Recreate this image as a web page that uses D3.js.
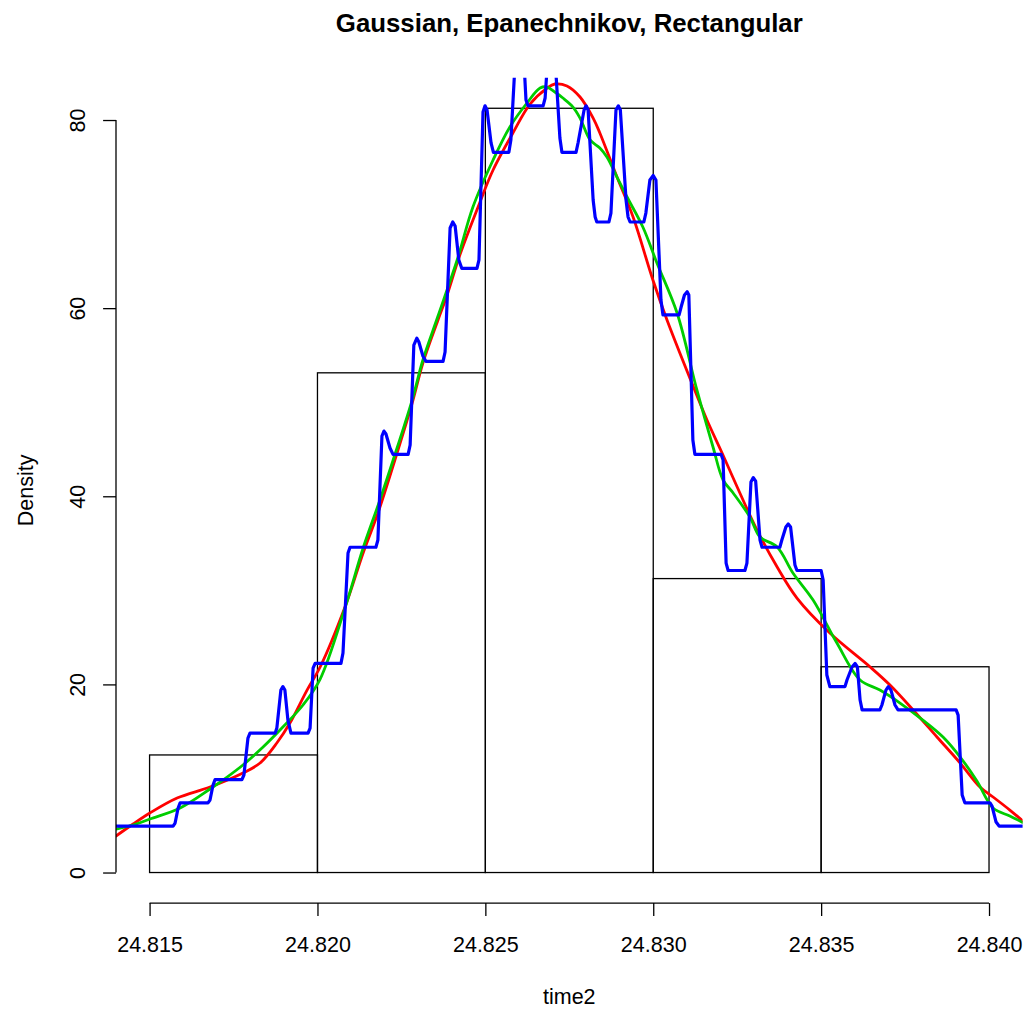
<!DOCTYPE html>
<html>
<head>
<meta charset="utf-8">
<script src="https://cdn.jsdelivr.net/npm/d3@7"></script>
<style>
  html, body { margin: 0; padding: 0; background: #fff; }
  svg { display: block; }
  text { font-family: "Liberation Sans", Arial, Helvetica, sans-serif; fill: #000; }
</style>
</head>
<body>
<script>
// ---- data ----
const chartTitle = "Gaussian, Epanechnikov, Rectangular";
const xLabel = "time2";
const yLabel = "Density";

const histBreaks = [24.815, 24.820, 24.825, 24.830, 24.835, 24.840];
const histDensity = [12.5, 53.125, 81.25, 31.25, 21.875];

const xTicks = [24.815, 24.820, 24.825, 24.830, 24.835, 24.840];
const xTickLabels = ["24.815", "24.820", "24.825", "24.830", "24.835", "24.840"];
const yTicks = [0, 20, 40, 60, 80];
const yTickLabels = ["0", "20", "40", "60", "80"];

// Gaussian kernel density (red)
const gaussX = [24.81400, 24.81451, 24.81501, 24.81582, 24.81680, 24.81778, 24.81829, 24.81879,
  24.81918, 24.81969, 24.82008, 24.82082, 24.82136, 24.82180, 24.82237, 24.82282, 24.82314,
  24.82359, 24.82386, 24.82424, 24.82484, 24.82523, 24.82582, 24.82633, 24.82684, 24.82707,
  24.82743, 24.82782, 24.82821, 24.82841, 24.82892, 24.82940, 24.82999, 24.83041, 24.83115,
  24.83160, 24.83205, 24.83258, 24.83309, 24.83369, 24.83428, 24.83526, 24.83646, 24.83705,
  24.83774, 24.83845, 24.83914, 24.83973, 24.84012, 24.84062, 24.84104];
const gaussY = [3.88, 5.16, 6.33, 7.92, 9.09, 10.58, 11.64, 13.77,
  15.89, 19.40, 21.85, 28.23, 33.97, 38.22, 44.60, 49.91, 54.17,
  58.74, 61.40, 65.65, 71.28, 74.69, 78.62, 81.70, 83.40, 83.83,
  83.62, 82.45, 80.21, 78.62, 73.94, 69.69, 62.99, 58.74, 52.04,
  48.11, 44.60, 40.35, 36.41, 32.48, 29.18, 25.46, 21.85, 19.93,
  17.28, 14.41, 11.64, 9.09, 8.03, 6.64, 5.37];

// Epanechnikov kernel density (green)
const epanX = [24.81400, 24.81451, 24.81501, 24.81591, 24.81680, 24.81731, 24.81778, 24.81838,
  24.81897, 24.81957, 24.82008, 24.82082, 24.82136, 24.82186, 24.82237, 24.82282, 24.82314,
  24.82359, 24.82416, 24.82463, 24.82523, 24.82573, 24.82624, 24.82663, 24.82684, 24.82707,
  24.82731, 24.82761, 24.82782, 24.82812, 24.82841, 24.82862, 24.82892, 24.82922, 24.82969,
  24.83011, 24.83071, 24.83130, 24.83178, 24.83208, 24.83238, 24.83288, 24.83318, 24.83369,
  24.83416, 24.83476, 24.83547, 24.83616, 24.83675, 24.83735, 24.83803, 24.83863, 24.83914,
  24.83964, 24.84012, 24.84062, 24.84104];
const epanY = [4.62, 5.05, 5.69, 6.86, 8.88, 10.15, 11.43, 13.34,
  15.47, 17.81, 20.57, 28.12, 34.50, 39.60, 45.13, 50.23, 54.49,
  59.16, 65.12, 70.75, 75.75, 79.26, 81.81, 83.40, 83.51, 82.98,
  82.34, 81.38, 80.21, 77.88, 77.03, 76.07, 73.94, 71.82, 68.63,
  64.80, 59.48, 51.30, 45.24, 41.73, 40.35, 37.79, 35.67, 34.61,
  31.84, 28.97, 24.40, 20.47, 19.40, 18.02, 16.21, 14.41, 12.28,
  9.73, 6.86, 6.01, 5.26];

// Rectangular kernel density (blue)
const rectX = [24.81400, 24.81570, 24.81576, 24.81585, 24.81591, 24.81674, 24.81680, 24.81689,
  24.81695, 24.81775, 24.81781, 24.81793, 24.81799, 24.81874, 24.81879, 24.81891, 24.81897,
  24.81903, 24.81912, 24.81921, 24.81972, 24.81978, 24.81987, 24.81993, 24.82070, 24.82076,
  24.82091, 24.82097, 24.82174, 24.82180, 24.82192, 24.82198, 24.82204, 24.82216, 24.82225,
  24.82270, 24.82276, 24.82287, 24.82296, 24.82302, 24.82314, 24.82323, 24.82374, 24.82380,
  24.82395, 24.82403, 24.82410, 24.82421, 24.82430, 24.82475, 24.82481, 24.82493, 24.82499,
  24.82505, 24.82517, 24.82524, 24.82570, 24.82576, 24.82602, 24.82621, 24.82627, 24.82672,
  24.82678, 24.82697, 24.82722, 24.82728, 24.82770, 24.82776, 24.82794, 24.82800, 24.82806,
  24.82821, 24.82827, 24.82832, 24.82868, 24.82874, 24.82889, 24.82896, 24.82902, 24.82919,
  24.82925, 24.82931, 24.82972, 24.82978, 24.82990, 24.83000, 24.83008, 24.83023, 24.83029,
  24.83077, 24.83083, 24.83093, 24.83101, 24.83106, 24.83118, 24.83124, 24.83202, 24.83208,
  24.83217, 24.83223, 24.83273, 24.83279, 24.83291, 24.83298, 24.83305, 24.83318, 24.83324,
  24.83377, 24.83383, 24.83395, 24.83402, 24.83409, 24.83422, 24.83428, 24.83500, 24.83506,
  24.83517, 24.83526, 24.83571, 24.83577, 24.83592, 24.83601, 24.83608, 24.83616, 24.83622,
  24.83675, 24.83681, 24.83693, 24.83700, 24.83708, 24.83720, 24.83729, 24.83902, 24.83908,
  24.83920, 24.83928, 24.84003, 24.84009, 24.84021, 24.84030, 24.84104];
const rectY = [4.94, 4.94, 5.26, 6.86, 7.41, 7.41, 7.71, 9.30,
  9.88, 9.88, 10.37, 14.30, 14.82, 14.82, 15.36, 19.40, 19.76,
  19.40, 16.21, 14.82, 14.82, 15.36, 21.74, 22.23, 22.23, 23.34,
  33.97, 34.58, 34.58, 35.35, 46.41, 46.93, 46.62, 45.13, 44.46,
  44.46, 45.45, 56.08, 56.81, 56.40, 54.91, 54.34, 54.34, 55.34,
  68.52, 69.16, 68.73, 65.12, 64.22, 64.22, 65.12, 80.85, 81.51,
  81.07, 77.56, 76.57, 76.57, 77.88, 94.9, 82.13, 81.51, 81.51,
  82.34, 92.76, 78.09, 76.57, 76.57, 77.56, 81.07, 81.51, 81.07,
  71.50, 69.69, 69.16, 69.16, 70.11, 81.07, 81.51, 81.07, 71.50,
  69.69, 69.16, 69.16, 70.11, 73.62, 74.10, 73.62, 60.87, 59.28,
  59.28, 60.12, 61.40, 61.75, 61.40, 45.98, 44.46, 44.46, 43.86,
  32.90, 32.11, 32.11, 32.90, 41.52, 41.99, 41.62, 35.35, 34.58,
  34.58, 35.35, 36.73, 37.05, 36.73, 32.69, 32.11, 32.11, 31.10,
  21.00, 19.76, 19.76, 20.47, 21.85, 22.23, 21.85, 18.34, 17.29,
  17.29, 17.81, 19.40, 19.76, 19.40, 17.81, 17.29, 17.29, 16.74,
  8.24, 7.41, 7.41, 7.07, 5.37, 4.94, 4.94];

const series = [
  { name: "Gaussian", xs: gaussX, ys: gaussY, color: "#FF0000", width: 2.8 },
  { name: "Epanechnikov", xs: epanX, ys: epanY, color: "#00CD00", width: 2.8 },
  { name: "Rectangular", xs: rectX, ys: rectY, color: "#0000FF", width: 3.2 }
];

// ---- layout ----
const W = 1028, H = 1009;
const plot = { left: 116, right: 1022.6, top: 77.7, bottom: 903.1 };

const svg = d3.select("body").append("svg")
  .attr("width", W).attr("height", H)
  .attr("viewBox", `0 0 ${W} ${H}`);

svg.append("rect").attr("width", W).attr("height", H).attr("fill", "#fff");

const xDomainPad = 0.04 * (histBreaks[histBreaks.length - 1] - histBreaks[0]);
const x = d3.scaleLinear()
  .domain([histBreaks[0] - xDomainPad, histBreaks[histBreaks.length - 1] + xDomainPad])
  .range([plot.left, plot.right]);
const yMax = d3.max(histDensity);
const y = d3.scaleLinear()
  .domain([-0.04 * yMax, 1.04 * yMax])
  .range([plot.bottom, plot.top]);

svg.append("defs").append("clipPath").attr("id", "plotClip")
  .append("rect")
  .attr("x", plot.left).attr("y", plot.top)
  .attr("width", plot.right - plot.left).attr("height", plot.bottom - plot.top);

// histogram bars
const bins = histDensity.map((d, i) => ({ x0: histBreaks[i], x1: histBreaks[i + 1], d }));
svg.append("g").selectAll("rect").data(bins).join("rect")
  .attr("x", b => x(b.x0))
  .attr("y", b => y(b.d))
  .attr("width", b => x(b.x1) - x(b.x0))
  .attr("height", b => y(0) - y(b.d))
  .attr("fill", "none")
  .attr("stroke", "#000")
  .attr("stroke-width", 1.3);

// density curves
const curveG = svg.append("g").attr("clip-path", "url(#plotClip)");
series.forEach(s => {
  const pts = s.xs.map((v, i) => [v, s.ys[i]]);
  const line = d3.line()
    .x(p => x(p[0])).y(p => y(p[1]))
    .curve(s.name === "Rectangular" ? d3.curveLinear : d3.curveCatmullRom.alpha(0.5));
  curveG.append("path")
    .datum(pts)
    .attr("d", line)
    .attr("fill", "none")
    .attr("stroke", s.color)
    .attr("stroke-width", s.width)
    .attr("stroke-linejoin", "round")
    .attr("stroke-linecap", "round");
});

const tickLen = 12.9;
const axisFont = 21.5;

// x axis
const xAxis = d3.axisBottom(x).tickValues(xTicks)
  .tickFormat((d, i) => xTickLabels[i])
  .tickSize(tickLen).tickSizeOuter(0);
const gx = svg.append("g").attr("transform", `translate(0,${plot.bottom})`).call(xAxis);
gx.select(".domain").remove();
gx.append("line")
  .attr("x1", x(xTicks[0])).attr("x2", x(xTicks[xTicks.length - 1]))
  .attr("y1", 0).attr("y2", 0)
  .attr("stroke", "#000").attr("stroke-width", 1.3);
gx.selectAll(".tick line").attr("stroke", "#000").attr("stroke-width", 1.3);
gx.selectAll(".tick text")
  .attr("y", 49).attr("dy", null)
  .attr("font-size", axisFont)
  .attr("font-family", "Liberation Sans, Arial, sans-serif")
  .attr("fill", "#000");

// y axis
const yAxis = d3.axisLeft(y).tickValues(yTicks)
  .tickFormat((d, i) => yTickLabels[i])
  .tickSize(tickLen).tickSizeOuter(0);
const gy = svg.append("g").attr("transform", `translate(${plot.left},0)`).call(yAxis);
gy.select(".domain").remove();
gy.append("line")
  .attr("x1", 0).attr("x2", 0)
  .attr("y1", y(yTicks[0])).attr("y2", y(yTicks[yTicks.length - 1]))
  .attr("stroke", "#000").attr("stroke-width", 1.3);
gy.selectAll(".tick line").attr("stroke", "#000").attr("stroke-width", 1.3);
gy.selectAll(".tick text")
  .attr("x", null).attr("dy", null)
  .attr("text-anchor", "middle")
  .attr("transform", "translate(-31,0) rotate(-90)")
  .attr("font-size", axisFont)
  .attr("font-family", "Liberation Sans, Arial, sans-serif")
  .attr("fill", "#000");

// titles
const cx = (plot.left + plot.right) / 2;
svg.append("text")
  .attr("x", cx).attr("y", 32)
  .attr("text-anchor", "middle")
  .attr("font-size", 25.8).attr("font-weight", "bold")
  .text(chartTitle);

svg.append("text")
  .attr("x", cx).attr("y", 1004)
  .attr("text-anchor", "middle")
  .attr("font-size", axisFont)
  .text(xLabel);

svg.append("text")
  .attr("transform", `translate(33,${(plot.top + plot.bottom) / 2}) rotate(-90)`)
  .attr("text-anchor", "middle")
  .attr("font-size", axisFont)
  .text(yLabel);
</script>
</body>
</html>
